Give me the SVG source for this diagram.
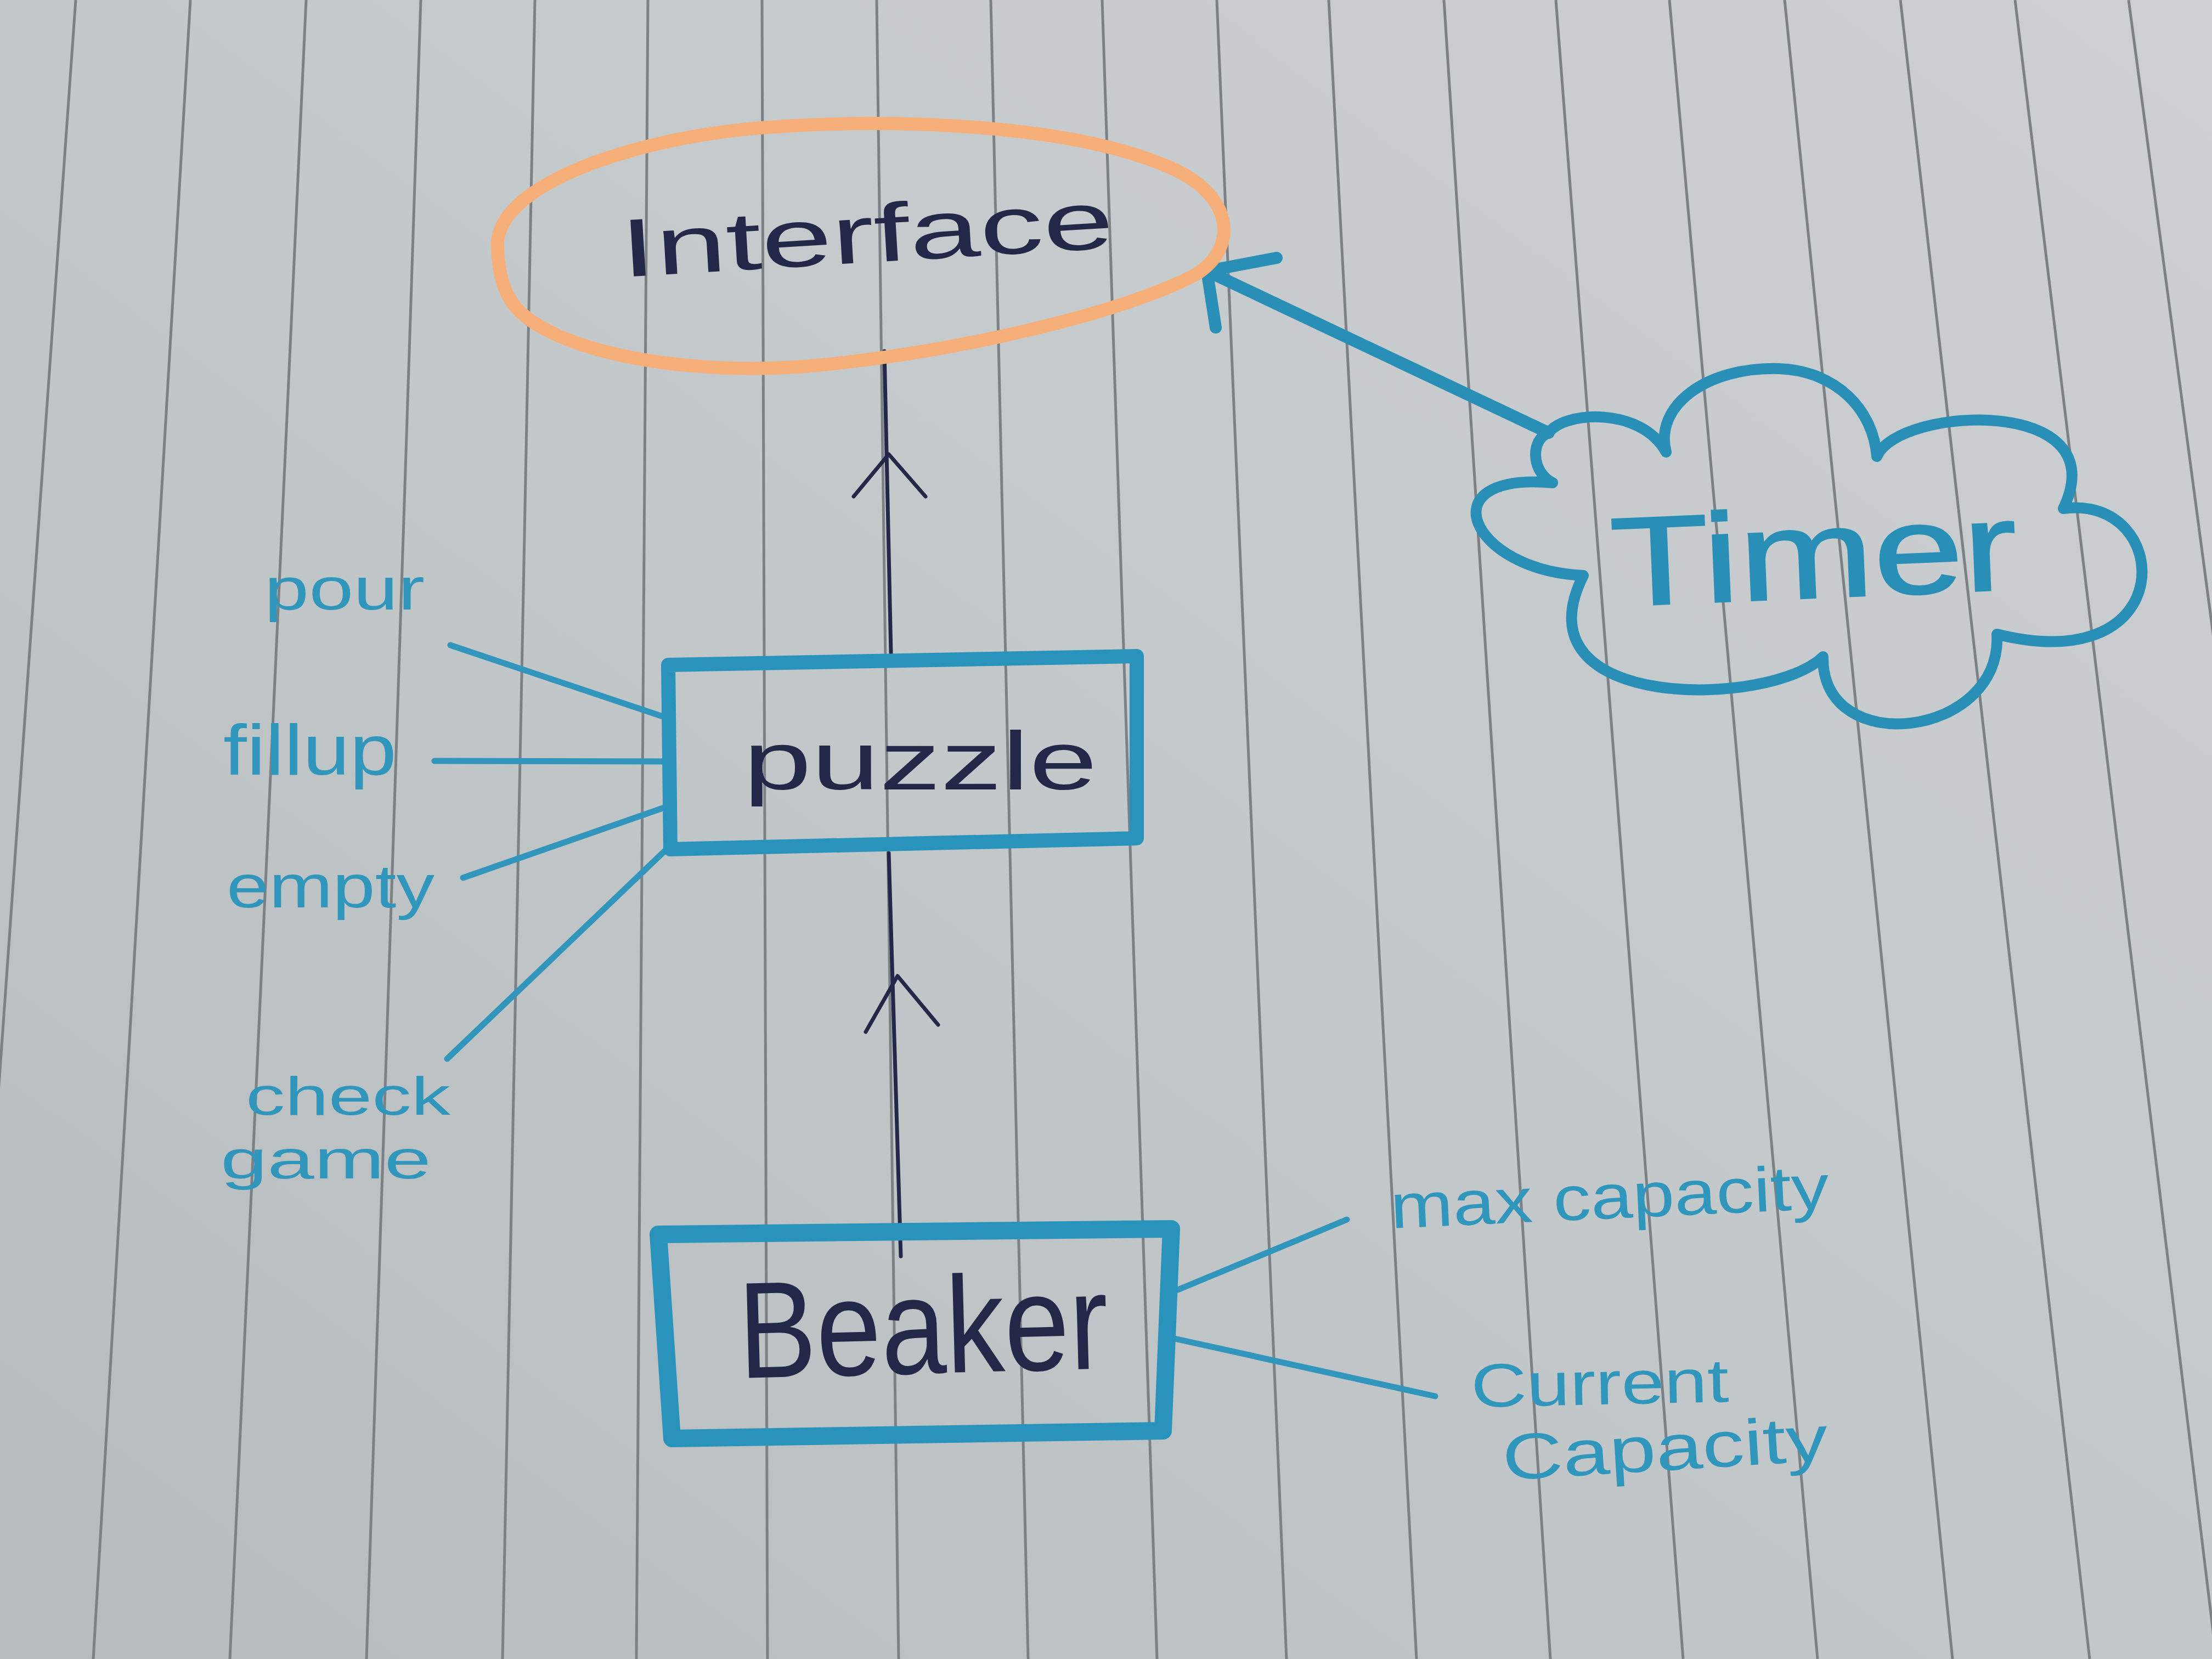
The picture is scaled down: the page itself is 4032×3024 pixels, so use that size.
<svg xmlns="http://www.w3.org/2000/svg" width="4032" height="3024" viewBox="0 0 4032 3024">
<defs>
<linearGradient id="paper" x1="1" y1="0" x2="0" y2="1">
<stop offset="0" stop-color="#ccd0d2"/>
<stop offset="0.5" stop-color="#c3c8ca"/>
<stop offset="1" stop-color="#b6bbbe"/>
</linearGradient>
<style>
.rule{stroke:#7c8186;stroke-width:5;fill:none}
.box{fill:none;stroke:#2a93bb;stroke-linejoin:round;stroke-linecap:round}
.ink{fill:none;stroke:#232848;stroke-width:7;stroke-linecap:round;stroke-linejoin:round}
.teal{fill:none;stroke:#3296bc;stroke-width:11;stroke-linecap:round}
.navytxt{fill:#232848;font-family:"Liberation Sans","Open Sans",sans-serif}
.tealtxt{fill:#3096bc;font-family:"Liberation Sans","Open Sans",sans-serif}
</style>
</defs>
<rect x="0" y="0" width="4032" height="3024" fill="url(#paper)"/>
<g id="ruled-lines">
<line class="rule" x1="138" y1="0" x2="-76" y2="3024"/>
<line class="rule" x1="347" y1="0" x2="170" y2="3024"/>
<line class="rule" x1="558" y1="0" x2="419" y2="3024"/>
<line class="rule" x1="767" y1="0" x2="668" y2="3024"/>
<line class="rule" x1="975" y1="0" x2="916" y2="3024"/>
<line class="rule" x1="1181" y1="0" x2="1160" y2="3024"/>
<line class="rule" x1="1389" y1="0" x2="1399" y2="3024"/>
<line class="rule" x1="1598" y1="0" x2="1638" y2="3024"/>
<line class="rule" x1="1806" y1="0" x2="1874" y2="3024"/>
<line class="rule" x1="2009" y1="0" x2="2109" y2="3024"/>
<line class="rule" x1="2218" y1="0" x2="2345" y2="3024"/>
<line class="rule" x1="2422" y1="0" x2="2582" y2="3024"/>
<line class="rule" x1="2632" y1="0" x2="2826" y2="3024"/>
<line class="rule" x1="2836" y1="0" x2="3068" y2="3024"/>
<line class="rule" x1="3043" y1="0" x2="3313" y2="3024"/>
<line class="rule" x1="3253" y1="0" x2="3559" y2="3024"/>
<line class="rule" x1="3464" y1="0" x2="3809" y2="3024"/>
<line class="rule" x1="3673" y1="0" x2="4040" y2="3024"/>
<line class="rule" x1="3880" y1="0" x2="4283" y2="3024"/>
</g>
<g id="connectors">
<path class="ink" d="M1624 1190 L1612 640"/>
<path class="ink" d="M1556 905 L1620 828 L1687 905"/>
<path class="ink" d="M1642 2290 L1620 1555"/>
<path class="ink" d="M1578 1881 L1636 1779 L1710 1868"/>
<path d="M2823 789 L2200 494" fill="none" stroke="#2a8fb6" stroke-width="22" stroke-linecap="round"/>
<path d="M2327 470 L2200 494 L2216 597" fill="none" stroke="#2a8fb6" stroke-width="22" stroke-linecap="round" stroke-linejoin="round"/>
<path class="teal" d="M821 1176 L1205 1305"/>
<path class="teal" d="M792 1387 L1222 1388"/>
<path class="teal" d="M844 1600 L1228 1466"/>
<path class="teal" d="M815 1930 L1217 1546"/>
<path class="teal" d="M2147 2351 L2455 2223"/>
<path class="teal" d="M2132 2438 L2616 2545"/>
</g>
<g id="node-interface">
<path d="M907 450 C900 340 1150 250 1400 232 C1650 214 1950 230 2120 300 C2250 350 2260 450 2180 500 C2050 570 1750 640 1500 665 C1250 690 1010 640 940 560 C915 530 908 490 907 450 Z" fill="none" stroke="#f7af7a" stroke-width="24"/>
<text class="navytxt" x="1134" y="505" font-size="150" textLength="900" lengthAdjust="spacingAndGlyphs" transform="rotate(-3.4 1134 505)">Interface</text>
</g>
<g id="node-timer">
<path d="M2823 789 C2850 750 2990 740 3037 824 C3015 740 3110 668 3243 672 C3350 676 3415 750 3421 832 C3460 740 3860 720 3761 927 C3960 900 3980 1240 3640 1156 C3650 1345 3320 1385 3323 1197 C3230 1290 2760 1300 2886 1049 C2680 1040 2600 860 2830 880 C2790 860 2790 800 2823 789 Z" fill="none" stroke="#2a8fb6" stroke-width="20" stroke-linejoin="round"/>
<text x="2939" y="1105" font-size="230" textLength="741" lengthAdjust="spacingAndGlyphs" transform="rotate(-2.4 2939 1105)" fill="#2a8fb6" stroke="#2a8fb6" stroke-width="3" font-family="Liberation Sans, Open Sans, sans-serif">Timer</text>
</g>
<g id="node-puzzle">
<path class="box" d="M1218 1212 L2072 1196 L2072 1528 L1222 1548 Z" stroke-width="26"/>
<text class="navytxt" x="1355" y="1439" font-size="150" textLength="645" lengthAdjust="spacingAndGlyphs">puzzle</text>
</g>
<g id="node-beaker">
<path class="box" d="M1200 2250 L2135 2240 L2120 2608 L1225 2622 Z" stroke-width="32"/>
<text class="navytxt" x="1348" y="2512" font-size="250" textLength="674" lengthAdjust="spacingAndGlyphs" transform="rotate(-1.5 1348 2512)">Beaker</text>
</g>
<g id="labels">
<text class="tealtxt" x="482" y="1111" font-size="110" textLength="292" lengthAdjust="spacingAndGlyphs">pour</text>
<text class="tealtxt" x="407" y="1412" font-size="130" textLength="316" lengthAdjust="spacingAndGlyphs">fillup</text>
<text class="tealtxt" x="413" y="1654" font-size="112" textLength="379" lengthAdjust="spacingAndGlyphs">empty</text>
<text class="tealtxt" x="448" y="2032" font-size="98" textLength="373" lengthAdjust="spacingAndGlyphs">check</text>
<text class="tealtxt" x="402" y="2148" font-size="100" textLength="384" lengthAdjust="spacingAndGlyphs">game</text>
<text class="tealtxt" x="2536" y="2239" font-size="115" textLength="800" lengthAdjust="spacingAndGlyphs" transform="rotate(-2.6 2536 2239)">max capacity</text>
<text class="tealtxt" x="2682" y="2565" font-size="112" textLength="470" lengthAdjust="spacingAndGlyphs" transform="rotate(-1.2 2682 2565)">Current</text>
<text class="tealtxt" x="2741" y="2698" font-size="118" textLength="594" lengthAdjust="spacingAndGlyphs" transform="rotate(-3.5 2741 2698)">Capacity</text>
</g>
</svg>
